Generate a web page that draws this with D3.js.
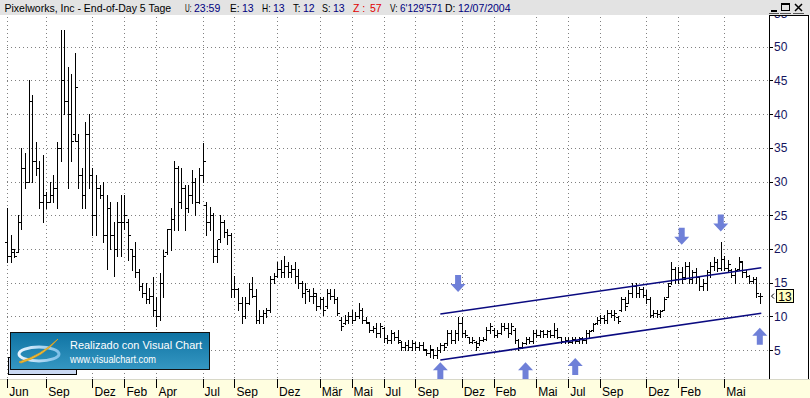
<!DOCTYPE html>
<html>
<head>
<meta charset="utf-8">
<script src="https://cdn.jsdelivr.net/npm/d3@7"></script>
<style>
  body { margin: 0; background: #fff; }
  svg { display: block; font-family: "Liberation Sans", Arial, sans-serif; }
</style>
</head>
<body>
<div id="chart"></div>
<script>
// Pixelworks weekly bars (Friday dates). The week of 14 Sep 2001 has no bar in the source.
const firstWeek = new Date(2000, 5, 16);
const afterLastWeek = new Date(2004, 6, 17);
const missingWeeks = ["2001-09-14"];

const open = [
  21,19,19.5,19.5,24,32,30,42,33,32,
  27,28,27,28,29,35,45,42,40,37,
  36,31,28,37,31,25,29,28,22,26,
  22,20,24,24,24,20,19,16.5,14.5,13.5,
  12.5,13,11,10,15,19.5,23,24.5,32,27,
  29,26,28,30,27,31,26.5,24,25,19,
  21.5,24,22.5,22,14,14,12,10,12,14,
  13,9.5,10,10.5,11,15.5,16,17,16.5,17.5,
  16.5,17,16,15,13.5,13.8,13,13,11.5,12.5,
  11.5,13.5,13,12.5,9.5,9,9.5,10,9.5,10,
  11,9.5,9,8,8.2,7.5,8.3,6.8,6.5,7.5,
  7,6.2,5.5,5.8,5.5,6,5.5,5.8,5,4.5,
  5,4.2,5,5.8,6,7.5,6.5,7.5,9,7.5,
  6.9,6.2,6.2,6,6.5,6.7,8,8,7.2,7.5,
  8.5,8.2,7.5,8,6.5,5.5,6,6.7,6.3,7.5,
  7.2,7.8,7.3,7.8,7.2,8,6.9,6.3,6.5,6.2,
  6.6,6.3,6.8,6.5,7.5,8,9,9.5,9.8,9.5,
  10.5,10.2,9.9,11,12.5,12,13.5,14.5,13.5,14,
  13.2,12.5,10.2,10.5,10.3,11,12.9,14.9,17,15.5,
  16.5,15.8,17.5,15.5,16.5,15.8,14.5,15,16.5,17.5,
  18,17.2,18.5,17.2,16.9,16.2,17,18,16.5,16,
  15.2,15.5,13
];
const high = [
  26,22,20,25,35,34.2,45,42.8,35.8,33,
  34,28.5,30,31,35.8,52.5,52.5,47,46,49,
  37,32,38.8,40,32,31,29.5,30,28,27,
  24,27,28,28,24.5,20,21,17,15,15,
  14.2,15.8,12.8,16.4,19.8,23,26,33,32.3,32,
  29.5,29.5,31.7,30.5,32,35.7,27,26.2,25.3,21.3,
  25,24.3,23,22.3,16,14.2,12.8,12.8,15,15.8,
  14,11,11,11.2,16,16.4,18,18.3,19,18,
  17.6,18,17,15.2,15,14,14.2,13.4,12.8,12.8,
  14,14,14,12.8,9.9,10.2,10.6,10.9,10.6,12,
  11.2,9.9,9.1,8.5,9,9,8.4,7.2,8,7.7,
  8,6.3,6.2,6.5,6.5,6.2,6.2,6.2,5.1,5.7,
  5.1,5.5,6,6,8,8,8,9.9,9.9,8,
  7,6.9,6.3,6.9,6.9,8.4,9,8.2,8,9,
  9,9,9,8.2,6.6,6.2,6.9,6.9,8,8,
  8,8,8,8,9,8.2,7,6.9,6.9,6.9,
  6.9,6.9,6.9,8,8,9,9.9,10.2,10.2,10.9,
  10.9,10.9,10,12.8,12.8,13.9,14.9,14.9,14.3,14.3,
  13.9,12.9,10.9,10.9,10.9,12.9,14.9,18,17.3,17.3,
  17.3,18,18,16.9,17.1,16,15.5,16.9,18,18.8,
  18.5,21,19,18.3,17,17.1,18.8,18.2,16.9,16.1,
  15.8,15.8,13.5
];
const low = [
  18,18,18.8,19.5,23,29,30,30,31,26,
  24,26,27,27,26,33,40,29,33,36,
  29,26,26,29,22,22,27.5,21,17,20,
  16,19,19,23,18.3,16.8,15.8,13.9,12.8,12,
  12,10,8.5,9.5,12.8,19.2,19.8,22.8,22.8,26,
  22.8,25.5,26.8,25,26.8,30,22,22.8,18,18,
  21,21.8,20.8,12.8,12.8,11,9,9.8,11.8,12.8,
  9,9,9,9.9,10.6,15,15.8,15.8,15.8,15.8,
  15.8,15,14.2,12.8,12,12.2,12,11,11.3,10.2,
  11.3,12.5,12,10.2,8,8.8,9,9,9.4,9.8,
  9,9,7.7,7.7,6.9,6.9,6.2,6,6,6.5,
  6,5,5,5,5,5,5,5,4.2,4,
  3.8,3.8,4.7,5,5.8,6,6,6.5,6.9,6.9,
  6,6,5,5.8,6.3,6.5,7.5,6.9,6.9,7.3,
  8,7,7.3,6,5,5.3,5.9,6,6,6.9,
  6.9,6.9,6.9,6.9,6.9,6.8,6,6,6,6,
  6,6,6,6,6.9,7.8,8.9,9,9,9,
  9.9,9.5,9,10.8,10.9,11.9,12.9,12.9,12.9,12.9,
  12,9.9,9.9,9.9,9.9,10.9,12.8,14.8,14.9,14.9,
  14.9,15.6,14.9,14.9,14.9,13.9,13.9,13.9,15.8,16.9,
  16.7,16.9,16.9,16.5,15.8,14.9,16.8,15.8,15.8,14.9,
  14.9,12.9,12
];
const close = [
  19,20,19,24,32,30,42,33,32,27,
  28,27,28,29,35,45,42,40,36,44,
  31,28,37,31,25,29,28,22,26,22,
  20,24,24,25,22,19,16.5,14.5,13.5,12.5,
  13,11,10,15,19,23,24.5,32,27,29,
  26,28,30,27,31,33,24,25,19,20,
  24,22.5,22,14,14,12,10,12,14,13,
  9.5,10,10.5,11,15.5,16,17,16.5,17.5,16.5,
  17,16,15,13.5,14,13,13.5,11.5,12.5,11,
  13.5,13,12.5,10.5,8.5,9.5,10,9.5,10,11,
  9.5,9.2,8,8.2,7.5,8.5,6.8,6.5,7.5,7,
  6.5,5.5,5.8,5.5,6,5.5,5.8,5.2,4.5,5.2,
  4.2,5,5.8,5.5,7.5,6.5,7.5,9,7.5,7.2,
  6.2,6.5,5.5,6.5,6.7,8,8.5,7.2,7.5,8.5,
  8.2,7.5,8.5,6.5,5.5,6,6.7,6.3,7.5,7.2,
  7.8,7.3,7.8,7.2,8,7,6.3,6.5,6.2,6.6,
  6.3,6.8,6.5,7.5,7.8,8.8,9.5,9.8,9.5,10.5,
  10.2,10.5,9.3,12.5,11.5,13.5,14.5,13.5,14,13.2,
  12.5,10.2,10.5,10.3,10.8,12.5,14.5,17,15.5,16.5,
  15.5,17.5,15.5,16.5,15.8,14.5,15,16.5,17.5,18,
  17.2,18.5,17.2,17.8,16.2,16.8,18.2,16.5,16,15.2,
  15.5,13.5,13
];

const priceTicks = [5, 10, 15, 20, 25, 30, 35, 40, 45, 50, 55];
const monthTicks = ["2000-06","2000-09","2000-12","2001-02","2001-04","2001-07","2001-09","2001-12",
  "2002-03","2002-05","2002-07","2002-09","2002-12","2003-02","2003-05","2003-07","2003-09",
  "2003-12","2004-02","2004-05"];
const monthLabels = ["Jun","Sep","Dez","Feb","Apr","Jul","Sep","Dez","Mär","Mai","Jul","Sep",
  "Dez","Feb","Mai","Jul","Sep","Dez","Feb","Mai"];

// trend channel drawn on the chart
const channelDates = ["2002-10-25", "2004-07-16"];
const channelUpper = [10.34, 17.2];
const channelLower = [3.52, 10.45];

// marker arrows: tip position in date/price
const arrowDates = ["2002-11-29", "2004-02-13", "2004-04-30", "2002-10-25", "2003-04-11", "2003-07-18", "2004-07-16"];
const arrowPrices = [13.6, 20.6, 22.6, 3.2, 3.2, 3.8, 8.3];
const arrowDirs = ["down", "down", "down", "up", "up", "up", "up"];

const lastPrice = 13;

const width = 810, height = 398;
const headerH = 15, axisX = 769, bandTop = 379;

const fmt = d3.timeFormat("%Y-%m-%d");
const dates = d3.timeFriday.range(firstWeek, afterLastWeek).map(fmt)
  .filter(d => !missingWeeks.includes(d));
const bars = dates.map((d, i) => ({ date: d, o: open[i], h: high[i], l: low[i], c: close[i] }));

const x = d3.scalePoint().domain(dates).range([7.3, 759.8]);
const y = d3.scaleLinear().domain([0, 55]).range([383.7, 13]);
const px = v => Math.round(v) + 0.5;

const svg = d3.select('#chart').append('svg')
  .attr('width', width)
  .attr('height', height);

const defs = svg.append('defs');
defs.append('clipPath').attr('id', 'plotClip')
  .append('rect').attr('x', 0).attr('y', headerH).attr('width', axisX).attr('height', bandTop - headerH);
defs.append('clipPath').attr('id', 'axisClip')
  .append('rect').attr('x', axisX).attr('y', headerH).attr('width', width - axisX).attr('height', bandTop - headerH);
const grad = defs.append('linearGradient').attr('id', 'logoGrad')
  .attr('x1', 0).attr('y1', 0).attr('x2', 0).attr('y2', 1);
grad.append('stop').attr('offset', '0%').attr('stop-color', '#0f73a3');
grad.append('stop').attr('offset', '100%').attr('stop-color', '#3597c2');
const ringGrad = defs.append('linearGradient').attr('id', 'ringGrad')
  .attr('x1', 0).attr('y1', 0).attr('x2', 1).attr('y2', 0);
ringGrad.append('stop').attr('offset', '0%').attr('stop-color', '#e8f4ff');
ringGrad.append('stop').attr('offset', '100%').attr('stop-color', '#7fc0e8');

svg.append('rect').attr('width', width).attr('height', height).attr('fill', '#fff');

const plot = svg.append('g').attr('clip-path', 'url(#plotClip)');

// month positions = first bar of that month
const monthPos = monthTicks.map(m => dates.find(d => d.startsWith(m)));

// dotted grid
plot.append('g')
  .selectAll('line')
  .data(priceTicks)
  .join('line')
  .attr('x1', 7).attr('x2', axisX)
  .attr('y1', d => px(y(d))).attr('y2', d => px(y(d)))
  .attr('stroke', '#808080')
  .attr('stroke-dasharray', '1,3');

plot.append('g')
  .selectAll('line')
  .data(monthPos)
  .join('line')
  .attr('x1', d => px(x(d))).attr('x2', d => px(x(d)))
  .attr('y1', headerH + 2).attr('y2', bandTop)
  .attr('stroke', '#808080')
  .attr('stroke-dasharray', '1,3');

// OHLC bars
plot.append('g')
  .selectAll('path')
  .data(bars)
  .join('path')
  .attr('d', d => {
    const X = px(x(d.date));
    const yo = px(y(d.o)), yc = px(y(d.c));
    return `M${X},${Math.round(y(d.h))}V${Math.round(y(d.l)) + 1}` +
      `M${X - 2.5},${yo}H${X - 0.5}M${X + 0.5},${yc}H${X + 2.5}`;
  })
  .attr('fill', 'none')
  .attr('stroke', '#000')
  .attr('stroke-width', 1)
  .attr('shape-rendering', 'crispEdges');

// trend channel
[channelUpper, channelLower].forEach(vals => {
  plot.append('line')
    .attr('x1', x(channelDates[0])).attr('y1', y(vals[0]))
    .attr('x2', x(channelDates[1]) + 1.5).attr('y2', y(vals[1]))
    .attr('stroke', '#0a0a80')
    .attr('stroke-width', 1.6);
});

// arrows
const arrowPath = (tx, ty, dir) => {
  const s = dir === 'down' ? 1 : -1;
  return `M${tx},${ty}L${tx + 7.5},${ty - s * 8}L${tx + 3},${ty - s * 8}L${tx + 3},${ty - s * 17}` +
    `L${tx - 3},${ty - s * 17}L${tx - 3},${ty - s * 8}L${tx - 7.5},${ty - s * 8}Z`;
};
plot.append('g')
  .selectAll('path')
  .data(arrowDates.map((d, i) => ({ d, p: arrowPrices[i], dir: arrowDirs[i] })))
  .join('path')
  .attr('d', a => arrowPath(x(a.d), y(a.p), a.dir))
  .attr('fill', '#6f80d8');

// header
svg.append('rect').attr('width', width).attr('height', headerH).attr('fill', '#e3e3e3');
const headerParts = [
  { t: 'Pixelworks, Inc - End-of-Day 5 Tage', x: 4.5, c: '#000' },
  { t: 'U:', x: 185, c: '#000' }, { t: '23:59', x: 194, c: '#000080' },
  { t: 'E:', x: 230, c: '#000' }, { t: '13', x: 242, c: '#000080' },
  { t: 'H:', x: 262, c: '#000' }, { t: '13', x: 273, c: '#000080' },
  { t: 'T:', x: 293, c: '#000' }, { t: '12', x: 303, c: '#000080' },
  { t: 'S:', x: 322, c: '#000' }, { t: '13', x: 333, c: '#000080' },
  { t: 'Z :', x: 353, c: '#e00000' }, { t: '57', x: 370, c: '#e00000' },
  { t: 'V:', x: 390, c: '#000' }, { t: "6'129'571", x: 400, c: '#000080' },
  { t: 'D:', x: 445, c: '#000' }, { t: '12/07/2004', x: 458, c: '#000080' }
];
headerParts.forEach((p, i) => {
  const t = svg.append('text')
    .attr('x', p.x).attr('y', 11.5)
    .attr('font-size', 10.5)
    .attr('fill', p.c)
    .text(p.t);
  // squeeze a piece if it would run into the next one
  const next = headerParts[i + 1];
  const avail = next ? next.x - p.x - 2.5 : 60;
  if (t.node().getComputedTextLength() > avail) {
    t.attr('textLength', avail).attr('lengthAdjust', 'spacingAndGlyphs');
  }
});

// window buttons
const btn = svg.append('g').attr('stroke', '#000').attr('fill', 'none').attr('shape-rendering', 'crispEdges');
btn.append('line').attr('x1', 771).attr('x2', 777).attr('y1', 10.5).attr('y2', 10.5).attr('stroke-width', 2);
btn.append('rect').attr('x', 781.5).attr('y', 3.5).attr('width', 8).attr('height', 7);
btn.append('line').attr('x1', 781.5).attr('x2', 789.5).attr('y1', 4.5).attr('y2', 4.5);
btn.append('path').attr('d', 'M795,4L802,11M802,4L795,11').attr('shape-rendering', 'auto').attr('stroke-width', 1.5);
[[769, 779], [780, 791], [793, 804]].forEach(([a, b]) => {
  btn.append('line').attr('x1', a).attr('x2', b).attr('y1', 13.5).attr('y2', 13.5).attr('stroke', '#555');
});

// price axis panel
svg.append('rect').attr('x', axisX).attr('y', headerH).attr('width', width - axisX).attr('height', bandTop - headerH).attr('fill', '#fff');
const axisG = svg.append('g').attr('clip-path', 'url(#axisClip)');
axisG.selectAll('line.tick')
  .data(priceTicks)
  .join('line')
  .attr('class', 'tick')
  .attr('x1', axisX).attr('x2', axisX + 4)
  .attr('y1', d => px(y(d))).attr('y2', d => px(y(d)))
  .attr('stroke', '#000')
  .attr('shape-rendering', 'crispEdges');
axisG.selectAll('text')
  .data(priceTicks)
  .join('text')
  .attr('x', axisX + 5)
  .attr('y', d => y(d) + 4.5)
  .attr('font-size', 12)
  .attr('fill', '#14145e')
  .text(d => d);

svg.append('path')
  .attr('d', `M${axisX + 0.5},${bandTop}V${headerH + 0.5}H${width - 1.5}V${bandTop}`)
  .attr('fill', 'none')
  .attr('stroke', '#000')
  .attr('shape-rendering', 'crispEdges');

// last price tag
const ly = y(lastPrice);
svg.append('path')
  .attr('d', `M${axisX + 5},${ly - 2.5}L${axisX + 2.5},${ly}L${axisX + 5},${ly + 2.5}`)
  .attr('fill', 'none').attr('stroke', '#000');
svg.append('rect')
  .attr('x', 776.5).attr('y', Math.round(ly) - 6.5)
  .attr('width', 17).attr('height', 13)
  .attr('fill', '#ffffc0').attr('stroke', '#000')
  .attr('shape-rendering', 'crispEdges');
svg.append('text')
  .attr('x', 785).attr('y', ly + 4.5)
  .attr('text-anchor', 'middle')
  .attr('font-size', 12)
  .text(lastPrice);

// time axis band
svg.append('rect').attr('x', 0).attr('y', bandTop).attr('width', width).attr('height', height - bandTop).attr('fill', '#fffee0');
svg.append('line').attr('x1', 0).attr('x2', width).attr('y1', bandTop + 0.5).attr('y2', bandTop + 0.5)
  .attr('stroke', '#d8d8c8');
const xAxis = svg.append('g');
xAxis.selectAll('line')
  .data(monthPos)
  .join('line')
  .attr('x1', d => px(x(d))).attr('x2', d => px(x(d)))
  .attr('y1', bandTop).attr('y2', bandTop + 9)
  .attr('stroke', '#000')
  .attr('shape-rendering', 'crispEdges');
xAxis.selectAll('text')
  .data(monthPos)
  .join('text')
  .attr('x', d => x(d) + 2)
  .attr('y', 396)
  .attr('font-size', 12)
  .attr('fill', '#000')
  .text((d, i) => monthLabels[i]);

// "Realizado con Visual Chart" badge
const logo = svg.append('g');
logo.append('rect').attr('x', 8.5).attr('y', 357.5).attr('width', 68).attr('height', 17)
  .attr('fill', '#c9d8f2').attr('stroke', '#000').attr('shape-rendering', 'crispEdges');
logo.append('rect').attr('x', 10.5).attr('y', 332.5).attr('width', 199).attr('height', 37)
  .attr('fill', 'url(#logoGrad)').attr('stroke', '#111').attr('shape-rendering', 'crispEdges');
logo.append('ellipse').attr('cx', 39).attr('cy', 354).attr('rx', 20).attr('ry', 7)
  .attr('fill', 'none').attr('stroke', 'url(#ringGrad)').attr('stroke-width', 3);
logo.append('path').attr('d', 'M19,362 Q40,356 58,339 Q44,356 21,363 Z')
  .attr('fill', '#f2c13a').attr('stroke', '#e0a020').attr('stroke-width', 0.8);
logo.append('text').attr('x', 70).attr('y', 348.5)
  .attr('font-size', 11.5).attr('fill', '#fff')
  .attr('textLength', 132).attr('lengthAdjust', 'spacingAndGlyphs')
  .text('Realizado con Visual Chart');
logo.append('text').attr('x', 70).attr('y', 362.5)
  .attr('font-size', 10).attr('fill', '#fff')
  .attr('textLength', 86).attr('lengthAdjust', 'spacingAndGlyphs')
  .text('www.visualchart.com');
</script>
</body>
</html>
